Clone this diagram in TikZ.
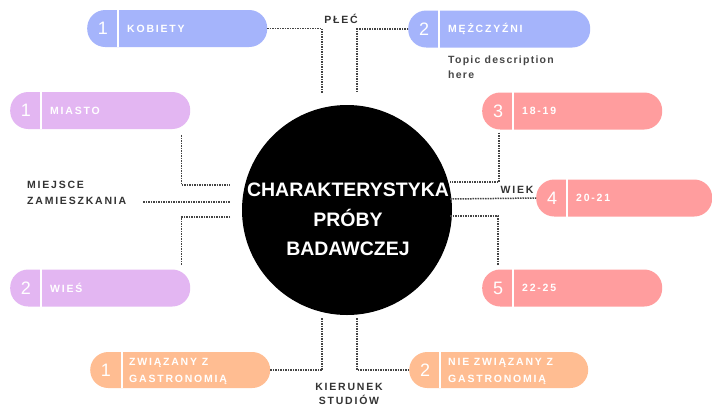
\documentclass[tikz,border=0pt]{standalone}
\usepackage{fontspec}
\setmainfont{Liberation Sans}
\newfontfamily\spacedfont[LetterSpace=17]{Liberation Sans}
\newfontfamily\descfont[LetterSpace=12]{Liberation Sans}
\usetikzlibrary{calc}
\definecolor{pillblue}{HTML}{A5B4FB}
\definecolor{pillpurple}{HTML}{E3B6F2}
\definecolor{pillpink}{HTML}{FF9D9E}
\definecolor{pillorange}{HTML}{FFBD92}
\definecolor{labelgray}{HTML}{333333}
\definecolor{linkgray}{HTML}{444444}
\tikzset{
  pill/.style={rectangle, rounded corners=18pt, minimum height=37pt, inner sep=0pt, anchor=west, draw=none},
  pilldiv/.style={draw=white, line width=1.5pt},
  pillnum/.style={text=white, font=\fontsize{18}{18}\selectfont, inner sep=0pt},
  pilltext/.style={text=white, font=\spacedfont\bfseries\fontsize{10.5}{17}\selectfont, inner sep=0pt, anchor=west, align=left},
  lbl/.style={text=labelgray, font=\spacedfont\bfseries\fontsize{10.5}{16}\selectfont, inner sep=0pt},
  desc/.style={text=labelgray!90, font=\descfont\bfseries\fontsize{10.5}{15}\selectfont, inner sep=0pt, align=left},
  link/.style={draw=linkgray, line width=1.5pt, densely dotted},
  hub/.style={circle, fill=black, minimum size=210pt, inner sep=0pt},
  hubtext/.style={text=white, font=\bfseries\fontsize{19.5}{29.5}\selectfont, align=center, inner sep=0pt},
}
\begin{document}
\begin{tikzpicture}[x=1pt,y=-1pt]
\path[use as bounding box, fill=white] (0,0) rectangle (712,408);

% hub
\node[hub] (c) at (347,210) {};
\node[hubtext] (ct) at (348,219.5) {CHARAKTERYSTYKA\\PRÓBY\\BADAWCZEJ};

% pills
\node[pill, fill=pillblue, minimum width=180pt] (kob) at (87,28.5) {};
\node[pill, fill=pillblue, minimum width=182pt] (mez) at (408,29) {};
\node[pill, fill=pillpurple, minimum width=180pt] (mia) at (10,110.5) {};
\node[pill, fill=pillpurple, minimum width=180pt] (wies) at (10,288) {};
\node[pill, fill=pillpink, minimum width=180pt] (a18) at (482,111) {};
\node[pill, fill=pillpink, minimum width=176pt] (a20) at (536,198) {};
\node[pill, fill=pillpink, minimum width=180pt] (a22) at (482,288) {};
\node[pill, fill=pillorange, minimum width=180pt, minimum height=36pt] (zw) at (90,370) {};
\node[pill, fill=pillorange, minimum width=179pt, minimum height=36pt] (nzw) at (409,370) {};

% dividers, numbers, texts
\foreach \p/\n/\t in {kob/1/KOBIETY, mez/2/MĘŻCZYŹNI, mia/1/MIASTO, wies/2/WIEŚ, a18/3/18-19, a20/4/20-21, a22/5/22-25}{
  \draw[pilldiv] ([shift={(31,0)}]\p.north west) -- ([shift={(31,0)}]\p.south west);
  \node[pillnum] (\p n) at ([shift={(16,0)}]\p.west) {\n};
  \node[pilltext] (\p t) at ([shift={(40,0)}]\p.west) {\t};
}
\draw[pilldiv] ([shift={(32,0)}]zw.north west) -- ([shift={(32,0)}]zw.south west);
\node[pillnum] (zwn) at ([shift={(16,0)}]zw.west) {1};
\node[pilltext] (zwt) at ([shift={(39,1)}]zw.west) {ZWIĄZANY Z\\GASTRONOMIĄ};
\draw[pilldiv] ([shift={(31,0)}]nzw.north west) -- ([shift={(31,0)}]nzw.south west);
\node[pillnum] (nzwn) at ([shift={(16,0)}]nzw.west) {2};
\node[pilltext] (nzwt) at ([shift={(39,1)}]nzw.west) {NIE ZWIĄZANY Z\\GASTRONOMIĄ};

% labels
\node[lbl, anchor=base] (plec) at (341,23.5) {PŁEĆ};
\node[lbl, anchor=north west, align=left] (mz) at (27,181) {MIEJSCE\\ZAMIESZKANIA};
\node[lbl, anchor=base] (wiek) at (517,193.5) {WIEK};
\node[lbl, anchor=north, align=center, font=\spacedfont\bfseries\fontsize{10.5}{14.5}\selectfont] (ks) at (349,383) {KIERUNEK\\STUDIÓW};
\node[desc, anchor=north west] (topic) at (448,56) {Topic description\\here};

% connector ends near the hub
\coordinate (t1) at (322,93);
\coordinate (t2) at (357,93);
\coordinate (l1) at (230,185);
\coordinate (l2) at (230,202);
\coordinate (l3) at (230,217);
\coordinate (r1) at (450,182);
\coordinate (r2) at (450,199);
\coordinate (r3) at (450,216);
\coordinate (b1) at (322,318);
\coordinate (b2) at (357,318);

% connectors
\draw[link] (kob.east) -| (t1);
\draw[link] (mez.west) -| (t2);
\draw[link] ([shift={(-9,6)}]mia.south east) |- (l1);
\draw[link] ([shift={(17,0)}]mz.east |- l2) -- (l2);
\draw[link] (l3) -| ([shift={(-9,-4)}]wies.north east);
\draw[link] ([shift={(17,3)}]a18.south west) |- (r1);
\draw[link] (r2) -- (a20.west);
\draw[link] (r3) -| ([shift={(16,-4)}]a22.north west);
\draw[link] (b1) |- (zw.east);
\draw[link] (b2) |- (nzw.west);
\end{tikzpicture}
\end{document}
